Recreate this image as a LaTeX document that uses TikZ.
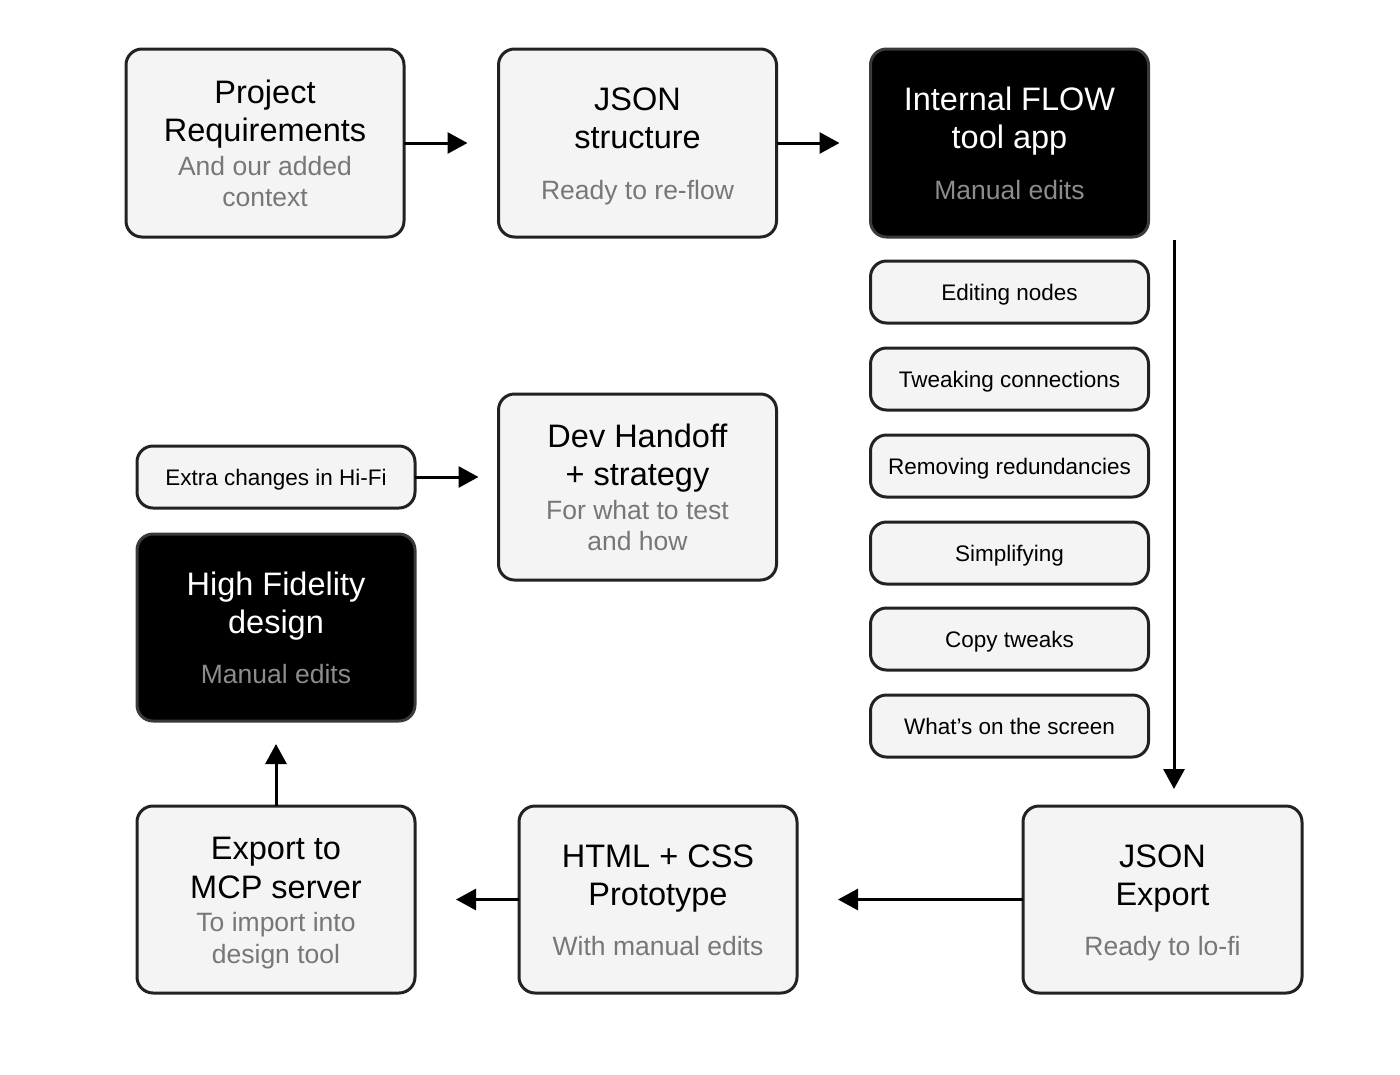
\documentclass[tikz,border=0pt]{standalone}
\usepackage{fontspec}
\setmainfont{Liberation Sans}
\usetikzlibrary{arrows.meta,calc}
\definecolor{boxfill}{HTML}{F4F4F4}
\definecolor{edge}{HTML}{222222}
\definecolor{subgray}{HTML}{777777}
\definecolor{darksub}{HTML}{8C8C8C}
\definecolor{darkedge}{HTML}{3A3A3A}
\newcommand\mkfour[5]{%
  \node[ttl] (#1-a) at ($(#1)+(0,-39.7)$) {#2};
  \node[ttl] (#1-b) at ($(#1)+(0,-1.3)$) {#3};
  \node[sub] (#1-c) at ($(#1)+(0,32)$) {#4};
  \node[sub] (#1-d) at ($(#1)+(0,63.7)$) {#5};}
\newcommand\mkthree[5]{%
  \node[ttl,text=#5] (#1-a) at ($(#1)+(0,-32.3)$) {#2};
  \node[ttl,text=#5] (#1-b) at ($(#1)+(0,5.6)$) {#3};
  \node[sub] (#1-c) at ($(#1)+(0,56.4)$) {#4};}
\begin{document}
\begin{tikzpicture}[x=1pt,y=-1pt,
  bigbox/.style={draw=edge, fill=boxfill, line width=3pt, rounded corners=16pt,
    minimum width=278pt, minimum height=188pt, inner sep=0pt, outer sep=0pt},
  darkbox/.style={bigbox, fill=black, draw=darkedge},
  smallbox/.style={draw=edge, fill=boxfill, line width=3pt, rounded corners=16pt,
    minimum width=278pt, minimum height=62pt, inner sep=0pt, outer sep=0pt,
    text height=16pt, text depth=0pt, font=\fontsize{22.5}{26}\selectfont},
  ttl/.style={anchor=base, inner sep=0pt, font=\fontsize{32.5}{38}\selectfont},
  sub/.style={anchor=base, inner sep=0pt, font=\fontsize{26.5}{32}\selectfont, text=subgray},
  arr/.style={-{Triangle[length=20pt,width=21pt]}, line width=3pt, draw=black}]
\useasboundingbox[fill=white] (0,0) rectangle (1400,1074);

% big boxes
\node[bigbox] (req) at (265,143) {};
\node[bigbox] (jstruct) at (637.5,143) {};
\node[darkbox] (flow) at (1009.5,143) {};
\node[bigbox, minimum height=186pt] (dev) at (637.5,487) {};
\node[darkbox, minimum height=187pt] (hifi) at (276,627.5) {};
\node[bigbox, minimum height=187pt] (mcp) at (276,899.5) {};
\node[bigbox, minimum height=187pt] (html) at (658,899.5) {};
\node[bigbox, minimum height=187pt, minimum width=279pt] (jexp) at (1162.5,899.5) {};

% small boxes
\node[smallbox] (s1) at (1009.5,292) {Editing nodes};
\node[smallbox] (s2) at (1009.5,379) {Tweaking connections};
\node[smallbox] (s3) at (1009.5,466) {Removing redundancies};
\node[smallbox] (s4) at (1009.5,553) {Simplifying};
\node[smallbox] (s5) at (1009.5,639) {Copy tweaks};
\node[smallbox] (s6) at (1009.5,726) {What’s on the screen};
\node[smallbox] (extra) at (276,477) {Extra changes in Hi-Fi};

% texts
\mkfour{req}{Project}{Requirements}{And our added}{context}
\mkthree{jstruct}{JSON}{structure}{Ready to re-flow}{black}
\tikzset{sub/.append style={text=darksub}}
\mkthree{flow}{Internal FLOW}{tool app}{Manual edits}{white}
\mkthree{hifi}{High Fidelity}{design}{Manual edits}{white}
\tikzset{sub/.append style={text=subgray}}
\mkfour{dev}{Dev Handoff}{+ strategy}{For what to test}{and how}
\mkfour{mcp}{Export to}{MCP server}{To import into}{design tool}
\mkthree{html}{HTML + CSS}{Prototype}{With manual edits}{black}
\mkthree{jexp}{JSON}{Export}{Ready to lo-fi}{black}

% connectors
\draw[arr, shorten >=31pt] (req.east) -- (jstruct.west);
\draw[arr, shorten >=31pt] (jstruct.east) -- (flow.west);
\draw[arr, shorten >=20pt] (extra.east) -- (extra.east -| dev.west);
\coordinate (vtop) at (1174,240);
\draw[arr, shorten >=17pt] (vtop) -- (vtop |- jexp.north);
\draw[arr, shorten >=41pt] (jexp.west) -- (html.east);
\draw[arr, shorten >=41pt] (html.west) -- (mcp.east);
\draw[arr, shorten >=23pt] (mcp.north) -- (hifi.south);
\end{tikzpicture}
\end{document}
